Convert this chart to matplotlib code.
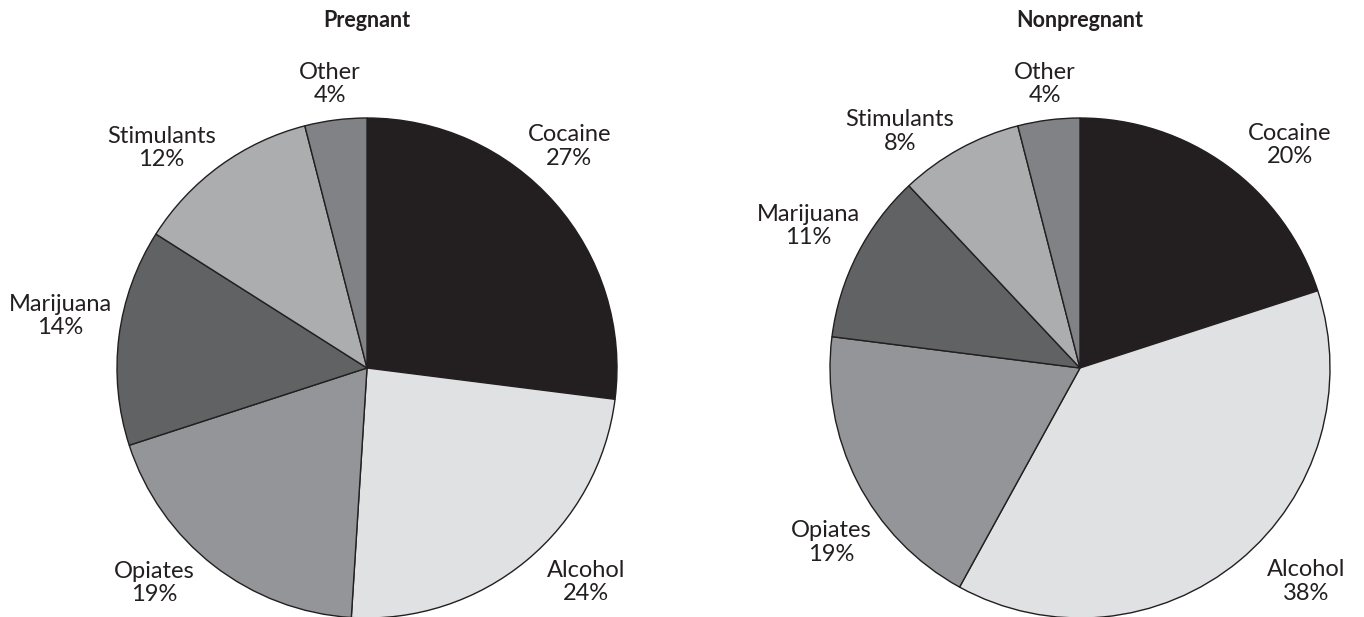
import matplotlib
matplotlib.use("Agg")
import numpy as np
import matplotlib.pyplot as plt

plt.rcParams["font.family"] = ["Lato", "DejaVu Sans"]

categories = ["Cocaine", "Alcohol", "Opiates", "Marijuana", "Stimulants", "Other"]
pregnant = [27, 24, 19, 14, 12, 4]
nonpregnant = [20, 38, 19, 11, 8, 4]
titles = ["Pregnant", "Nonpregnant"]

colors = ["#231f20", "#e0e1e3", "#939598", "#616264", "#acadaf", "#808285"]

# label placement tweaks: angle shift from wedge middle (deg) and radial distance
label_shift = [[6.2, 6.1, -6.9, -2.4, 7.1, 0.2],
               [-7.3, 7.1, 8.1, -0.6, 8.5, -0.2]]
label_dist = [[1.20, 1.225, 1.21, 1.245, 1.205, 1.145],
              [1.225, 1.245, 1.215, 1.225, 1.19, 1.145]]

W, H = 1364, 617
fig = plt.figure(figsize=(W / 100, H / 100), dpi=100)

radius_px = 250
centers = [(367, 368), (1080, 368)]  # pixel centres, y from top


def draw_pie(center, values, title, shifts, dists):
    cx, cy = center
    ax = fig.add_axes([(cx - radius_px) / W, (H - cy - radius_px) / H,
                       2 * radius_px / W, 2 * radius_px / H])
    wedges, _ = ax.pie(values, colors=colors, startangle=90,
                       counterclock=False, radius=1,
                       wedgeprops=dict(edgecolor="#231f20", linewidth=1.0))
    for w, cat, v, sh, d in zip(wedges, categories, values, shifts, dists):
        ang = np.deg2rad((w.theta1 + w.theta2) / 2 + sh)
        ax.text(d * np.cos(ang), d * np.sin(ang), "{}\n{}%".format(cat, v),
                ha="center", va="center", fontsize=17,
                color="#231f20", linespacing=1.15, clip_on=False)
    ax.set_xlim(-1, 1)
    ax.set_ylim(-1, 1)
    ax.set_aspect("equal")
    ax.axis("off")
    fig.text(cx / W, 1 - 27 / H, title, ha="center", va="baseline",
             fontsize=15.5, fontweight="bold", color="#231f20")


for i, (center, vals, title) in enumerate(zip(centers, [pregnant, nonpregnant], titles)):
    draw_pie(center, vals, title, label_shift[i], label_dist[i])

fig.savefig("out.png", dpi=100)
